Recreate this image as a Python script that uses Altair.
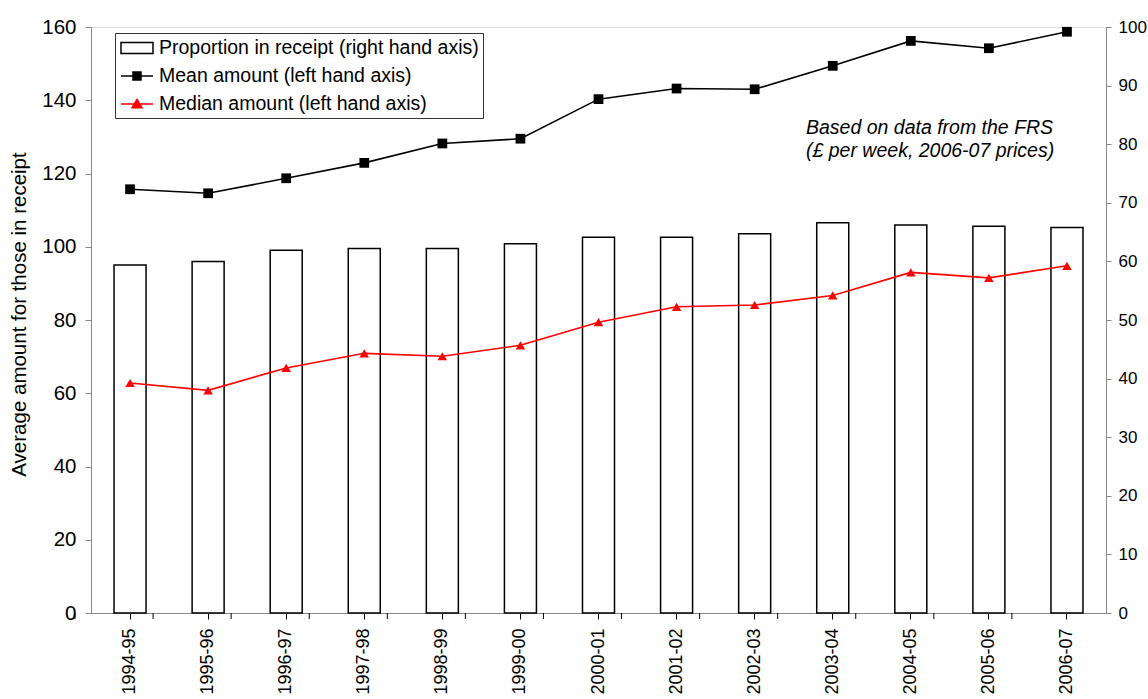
import altair as alt
import pandas as pd

# Financial years
years = ["1994-95", "1995-96", "1996-97", "1997-98", "1998-99", "1999-00", "2000-01",
         "2001-02", "2002-03", "2003-04", "2004-05", "2005-06", "2006-07"]
# Proportion in receipt, % (right hand axis)
proportion = [59.4, 60.0, 61.9, 62.2, 62.2, 63.0, 64.1, 64.1, 64.7, 66.6, 66.2, 66.0, 65.8]
# Mean amount, £ per week (left hand axis)
mean_amount = [115.7, 114.6, 118.7, 122.9, 128.2, 129.5, 140.3, 143.2, 143.0, 149.4, 156.2, 154.2, 158.7]
# Median amount, £ per week (left hand axis)
median_amount = [62.8, 60.8, 66.9, 70.9, 70.1, 73.1, 79.4, 83.6, 84.1, 86.7, 93.0, 91.5, 94.8]

series_names = ["Proportion in receipt (right hand axis)",
                "Mean amount (left hand axis)",
                "Median amount (left hand axis)"]
left_ticks = list(range(0, 161, 20))
right_ticks = list(range(0, 101, 10))
note_lines = ["Based on data from the FRS", "(£ per week, 2006-07 prices)"]

FONT = "Liberation Sans"
W, H = 1015, 586
PAD_INNER = 0.59

df = pd.DataFrame({"year": years, "proportion": proportion,
                   "mean": mean_amount, "median": median_amount})

x_scale = alt.Scale(type="band", paddingInner=PAD_INNER, paddingOuter=PAD_INNER / 2)
x_axis = alt.Axis(title=None, labelAngle=270, labelFontSize=18, labelPadding=9,
                  tickSize=6, tickColor="black", labelColor="black")
X = alt.X("year:N", sort=years, scale=x_scale, axis=x_axis)

bars = alt.Chart(df).mark_bar(fill="white", stroke="black", strokeWidth=1.5).encode(
    x=X,
    y=alt.Y("proportion:Q", scale=alt.Scale(domain=[0, 100], nice=False),
            axis=alt.Axis(orient="right", values=right_ticks, title=None,
                          labelFontSize=17, tickSize=5, labelPadding=7, grid=False)),
)

left_scale = alt.Scale(domain=[0, 160], nice=False)
left_axis = alt.Axis(orient="left", values=left_ticks, grid=False,
                     title="Average amount for those in receipt",
                     titleFontSize=20.5, titleFontWeight="normal", titleAngle=270,
                     titleX=-72, titleY=287, titleAlign="center", titleBaseline="middle",
                     labelFontSize=20.5, tickSize=6, labelPadding=9)

mean_line = alt.Chart(df).mark_line(color="black", strokeWidth=1.6).encode(
    x=X, y=alt.Y("mean:Q", scale=left_scale, axis=left_axis))
mean_pts = alt.Chart(df).mark_point(shape="square", filled=True, color="black",
                                    size=95, opacity=1).encode(
    x=X, y=alt.Y("mean:Q", scale=left_scale, axis=None))

median_line = alt.Chart(df).mark_line(color="#ff0000", strokeWidth=1.6).encode(
    x=X, y=alt.Y("median:Q", scale=left_scale, axis=None))
median_pts = alt.Chart(df).mark_point(shape="triangle-up", filled=True, color="#ff0000",
                                      size=90, opacity=1).encode(
    x=X, y=alt.Y("median:Q", scale=left_scale, axis=None))

# Boundary ticks between categories on the x axis (half a step left of each centre)
half_step = W / len(years) / 2
edge_ticks = alt.Chart(df).mark_rule(color="black", strokeWidth=1).encode(
    x=X, xOffset=alt.value(-half_step),
    y=alt.value(H), y2=alt.value(H + 6))

# Legend entries: outlined box, line with square, line with triangle
legend_df = pd.DataFrame({"series": series_names})
shape_paths = [
    "M-0.9,-0.55H2.3V0.55H-0.9Z",
    "M-0.9,0H2.3M0.3,-0.4H1.1V0.4H0.3Z",
    "M-0.9,0H2.3M0.7,-0.45L1.2,0.38H0.2Z",
]
legend_layer = alt.Chart(legend_df).mark_point(filled=True, opacity=0, size=400,
                                               strokeWidth=1.5).encode(
    shape=alt.Shape("series:N", sort=series_names,
                    scale=alt.Scale(domain=series_names, range=shape_paths),
                    legend=alt.Legend(orient="none", legendX=24, legendY=6, title=None,
                                      direction="vertical", padding=4, rowPadding=7,
                                      labelFontSize=19.5, labelOffset=18, labelLimit=0,
                                      strokeColor="#333333", fillColor="white",
                                      symbolSize=400, symbolStrokeWidth=1.5,
                                      symbolOpacity=1, labelColor="black")),
    fill=alt.Fill("series:N", sort=series_names,
                  scale=alt.Scale(domain=series_names, range=["white", "black", "#ff0000"])),
    stroke=alt.Stroke("series:N", sort=series_names,
                      scale=alt.Scale(domain=series_names, range=["black", "black", "#ff0000"])),
)

note = alt.Chart(pd.DataFrame({"k": [0]})).mark_text(
    align="left", baseline="top", fontStyle="italic", fontSize=19.5, lineHeight=23,
    font=FONT, color="black").encode(
    x=alt.value(715), y=alt.value(92), text=alt.value(note_lines))

chart = alt.layer(bars, mean_line, median_line, mean_pts, median_pts, edge_ticks,
                  legend_layer, note).resolve_scale(y="independent").properties(
    width=W, height=H,
    padding={"left": 91, "top": 27, "right": 42, "bottom": 86},
    autosize=alt.AutoSizeParams(type="none"),
).configure_view(
    stroke="#808080", strokeDash=[3, 3], strokeWidth=1.2
).configure_axis(
    labelFont=FONT, titleFont=FONT, labelColor="black", titleColor="black",
    tickColor="black", domainColor="#555555", domainDash=[4, 3], domainWidth=1.5,
).configure_legend(
    labelFont=FONT
).configure(background="white")

chart.save("out.html", embed_options={"renderer": "svg", "actions": False})
